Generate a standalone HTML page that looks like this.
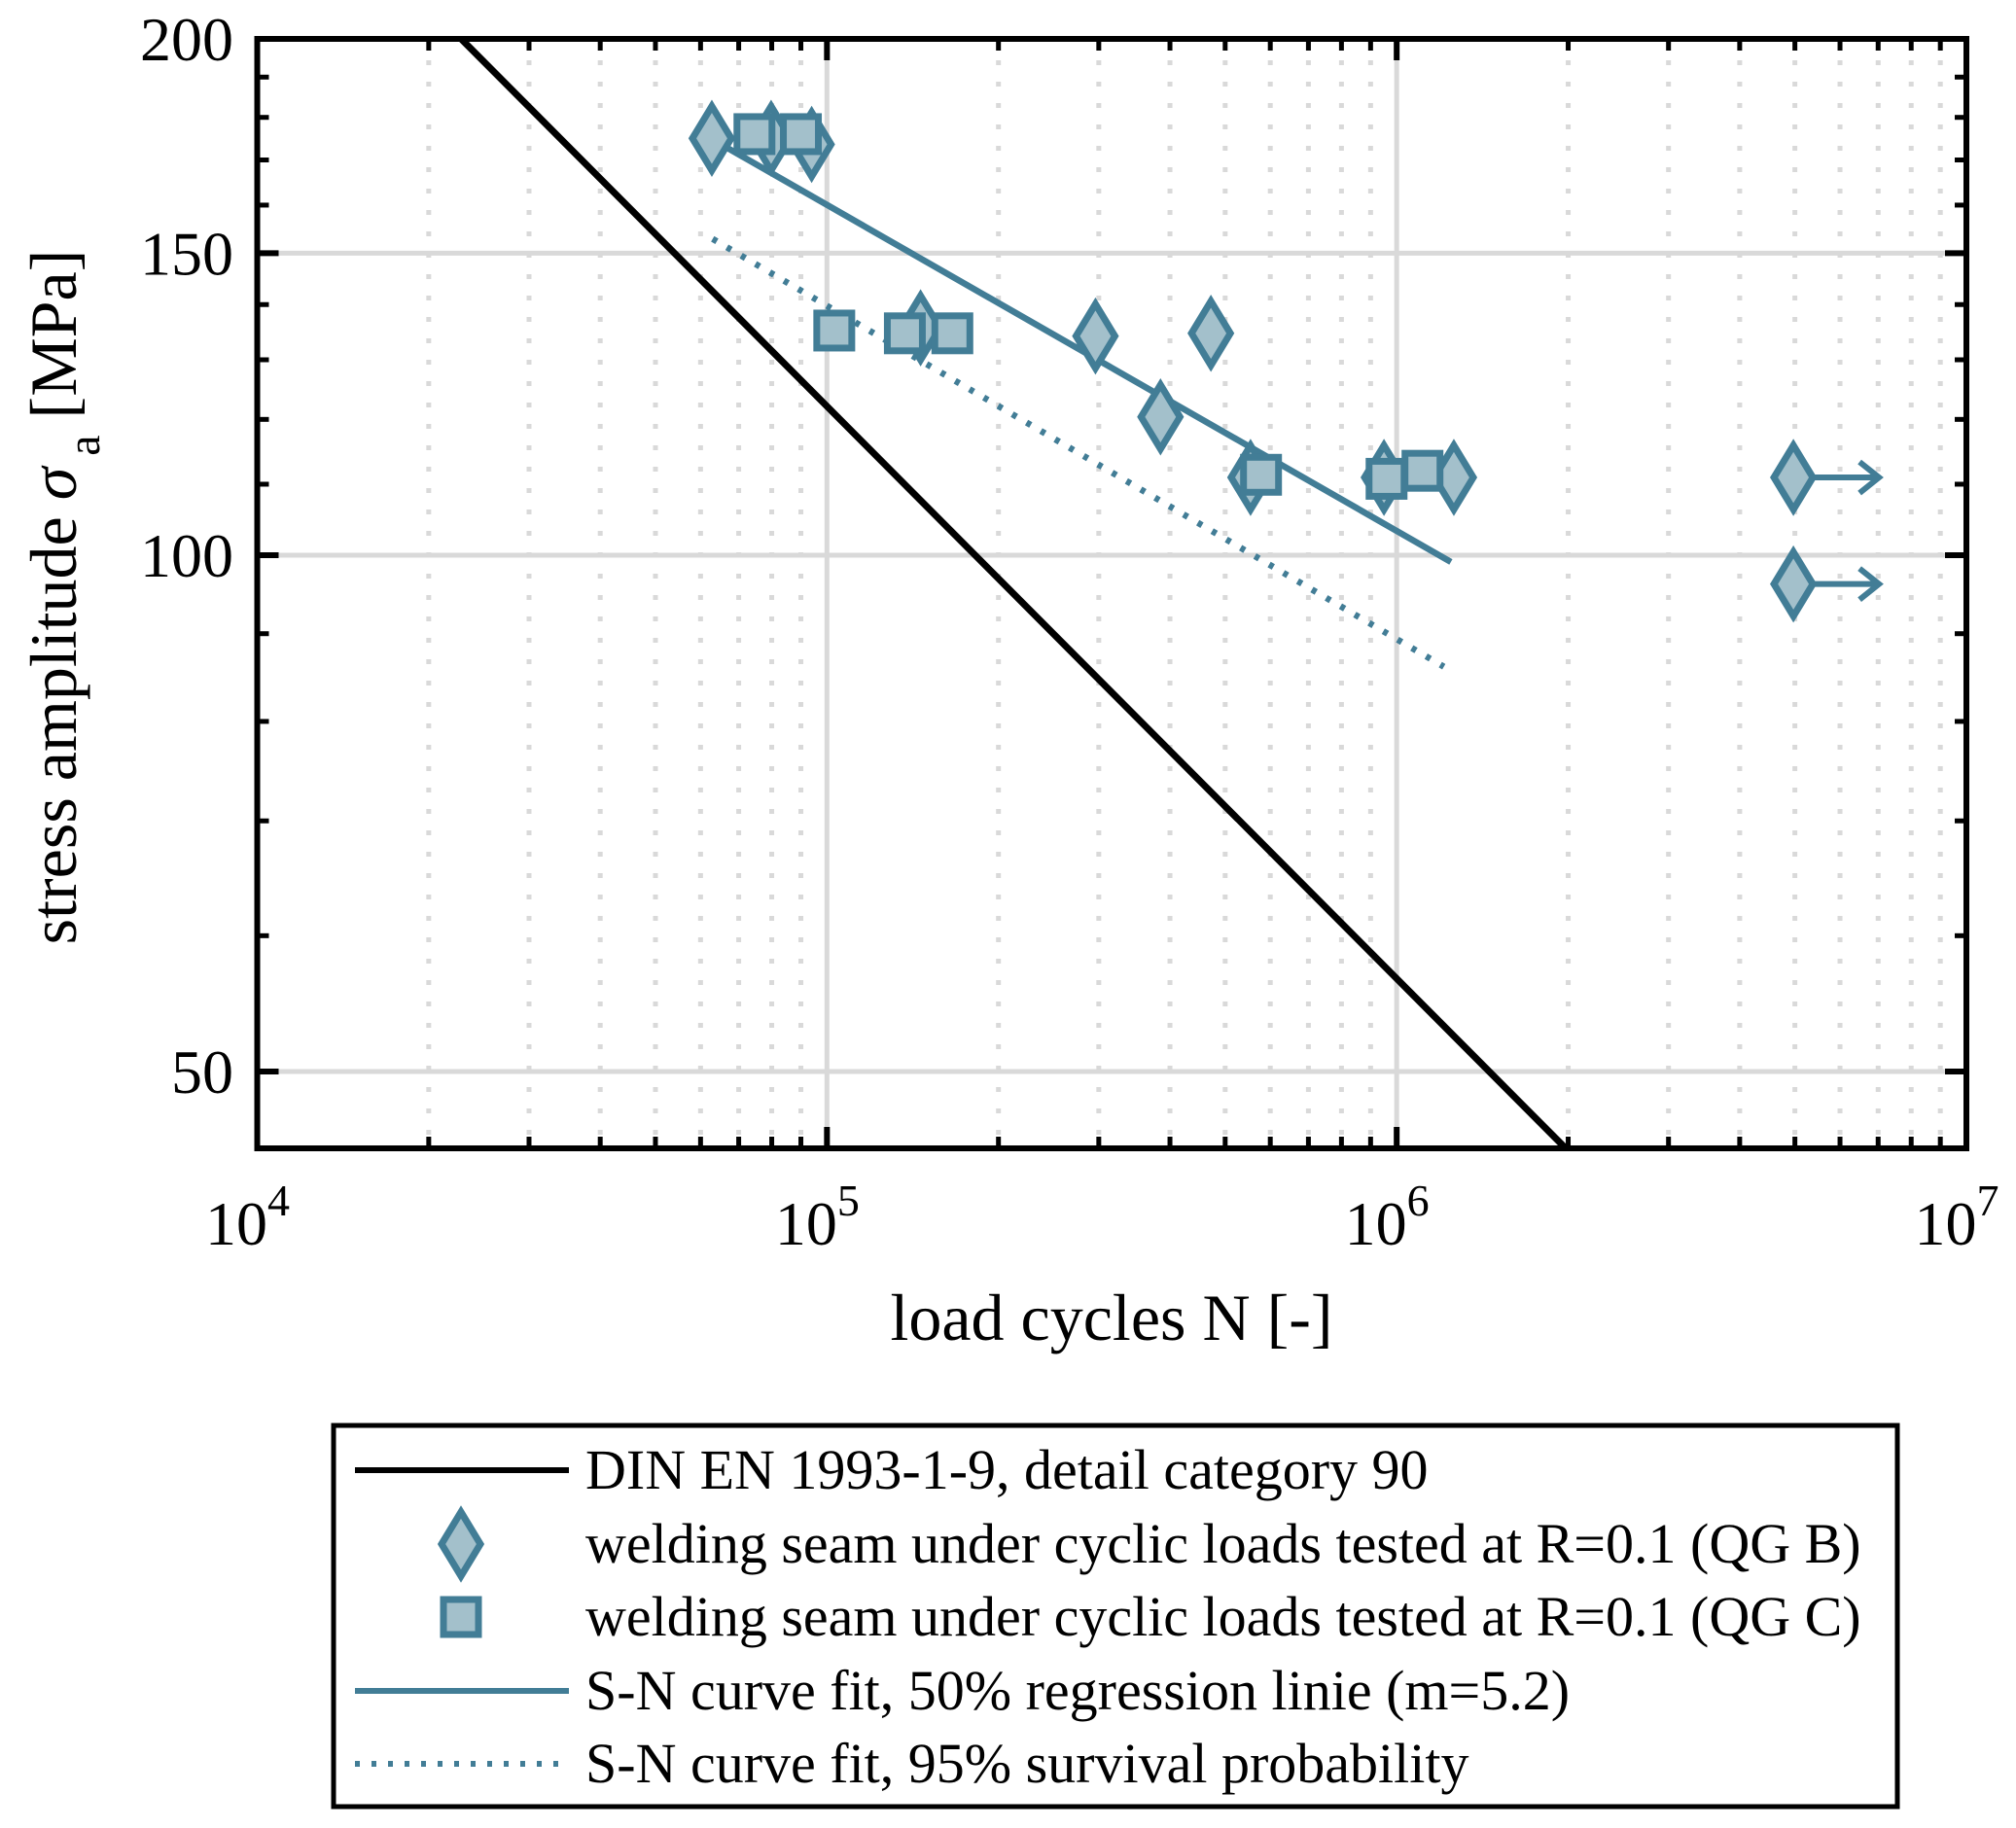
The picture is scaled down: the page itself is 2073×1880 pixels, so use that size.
<!DOCTYPE html>
<html><head><meta charset="utf-8"><style>
body{margin:0;background:#fff}
svg{display:block;font-family:"Liberation Serif","DejaVu Serif",serif}
</style></head><body>
<svg id="chart" width="2073" height="1880" viewBox="0 0 2073 1880" xmlns="http://www.w3.org/2000/svg">
<g id="grid"></g>
<g id="series"></g>
<g id="axes"></g>
<g id="legend"></g>
</svg>
<script>
// ---- data ----
const xDecades = [4, 5, 6, 7];
const yMajorTicks = [50, 100, 150, 200];
const yMinorTicks = [50,60,70,80,90,100,110,120,130,140,150,160,170,180,190,200];
const dinN = [22800, 1980000];
const dinS = [200, 45.1];
const fitN = [66000, 1245000];
const fitS = [173.2, 99.1];
const fit95N = [63000, 1210000];
const fit95S = [152.9, 86.1];
const qgbN = [62800, 79800, 94000, 146000, 296000, 472000, 385000, 554000, 950000, 1260000];
const qgbS = [175, 175, 173.6, 135.7, 134.2, 134.7, 120.4, 111, 111, 111];
const runoutN = [4970000, 4970000];
const runoutS = [111, 96.2];
const qgcN = [74600, 90000, 103000, 137000, 166000, 578000, 960000, 1110000];
const qgcS = [176, 176, 135.2, 134.7, 134.7, 111.4, 110.8, 112];

// ---- axes ----
const X0=264.5, X1=2022, Y0=40, Y1=1181;
const xMinL=4, xMaxL=7, yMax=200, yMin=45.1;
function xs(n){return X0+(Math.log10(n)-xMinL)/(xMaxL-xMinL)*(X1-X0);}
function ys(s){return Y0+(Math.log10(yMax)-Math.log10(s))/(Math.log10(yMax)-Math.log10(yMin))*(Y1-Y0);}
const NS="http://www.w3.org/2000/svg";
function mk(tag,attrs,parent){const e=document.createElementNS(NS,tag);for(const k in attrs)e.setAttribute(k,attrs[k]);parent.appendChild(e);return e;}
const grid=document.getElementById('grid'),ser=document.getElementById('series'),ax=document.getElementById('axes'),leg=document.getElementById('legend');
const BLUE="#427d96", FILL="#a3c0cb";

// grid
for(let d=xDecades[0]; d<xDecades[xDecades.length-1]; d++){
  for(let k=2;k<=9;k++){
    const x=xs(k*Math.pow(10,d));
    const l=mk('line',{x1:x,x2:x,y1:Y0,y2:Y1,stroke:'#d9d9d9','stroke-width':5,'stroke-dasharray':'5 17'},grid);
    
    
  }
}
xDecades.slice(1,-1).forEach(d=>{
  const x=xs(Math.pow(10,d));
  const l=mk('line',{x1:x,x2:x,y1:Y0,y2:Y1,stroke:'#d9d9d9','stroke-width':5},grid);
  
  
});
yMajorTicks.slice(0,-1).forEach(v=>{
  const y=ys(v);
  const l=mk('line',{x1:X0,x2:X1,y1:y,y2:y,stroke:'#d9d9d9','stroke-width':5},grid);
  
  
});

// series lines
function line(N,S,attrs,name){
  const l=mk('line',Object.assign({x1:xs(N[0]),y1:ys(S[0]),x2:xs(N[1]),y2:ys(S[1])},attrs),ser);
  
  
}
line(dinN,dinS,{stroke:'#000','stroke-width':7},'din-en-line');
line(fit95N,fit95S,{stroke:BLUE,'stroke-width':6.5,'stroke-dasharray':'5 12'},'fit-95-line');
line(fitN,fitS,{stroke:BLUE,'stroke-width':6.5},'fit-50-line');

function diamond(cx,cy,parent){return mk('polygon',{points:`${cx},${cy-33} ${cx+20},${cy} ${cx},${cy+33} ${cx-20},${cy}`,fill:FILL,stroke:BLUE,'stroke-width':7,'stroke-linejoin':'miter'},parent);}
function square(cx,cy,parent){return mk('rect',{x:cx-18,y:cy-18,width:36,height:36,fill:FILL,stroke:BLUE,'stroke-width':7},parent);}

qgbN.forEach((n,i)=>{
  const d=diamond(xs(n),ys(qgbS[i]),ser);
  
  
});
qgcN.forEach((n,i)=>{
  const s=square(xs(n),ys(qgcS[i]),ser);
  
  
});
runoutN.forEach((n,i)=>{
  const cx=xs(n),cy=ys(runoutS[i]);
  const a=mk('path',{d:`M${cx+8},${cy} H${cx+87} M${cx+68},${cy-16} L${cx+88},${cy} L${cx+68},${cy+16}`,fill:'none',stroke:BLUE,'stroke-width':6},ser);
  
  
  const d=diamond(cx,cy,ser);
  
  
});

// axes frame and ticks
const fr=mk('rect',{x:X0,y:Y0,width:X1-X0,height:Y1-Y0,fill:'none',stroke:'#000','stroke-width':6},ax);


for(let d=4;d<7;d++){for(let k=2;k<=9;k++){const x=xs(k*Math.pow(10,d));
  mk('line',{x1:x,x2:x,y1:Y1,y2:Y1-12,stroke:'#000','stroke-width':5},ax);
  mk('line',{x1:x,x2:x,y1:Y0,y2:Y0+12,stroke:'#000','stroke-width':5},ax);}}
xDecades.forEach(d=>{const x=xs(Math.pow(10,d));
  mk('line',{x1:x,x2:x,y1:Y1,y2:Y1-22,stroke:'#000','stroke-width':6},ax);
  mk('line',{x1:x,x2:x,y1:Y0,y2:Y0+22,stroke:'#000','stroke-width':6},ax);
  const t=mk('text',{x:x-10,y:1280,'font-size':64,'text-anchor':'middle'},ax);
  
  
  t.textContent='10';
  const s=mk('tspan',{dy:-30,'font-size':46},t); s.textContent=String(d);
});
yMinorTicks.forEach(v=>{const y=ys(v);
  mk('line',{x1:X0,x2:X0+12,y1:y,y2:y,stroke:'#000','stroke-width':5},ax);
  mk('line',{x1:X1,x2:X1-12,y1:y,y2:y,stroke:'#000','stroke-width':5},ax);});
yMajorTicks.forEach(v=>{const y=ys(v);
  mk('line',{x1:X0,x2:X0+22,y1:y,y2:y,stroke:'#000','stroke-width':6},ax);
  mk('line',{x1:X1,x2:X1-22,y1:y,y2:y,stroke:'#000','stroke-width':6},ax);
  const t=mk('text',{x:240,y:y+22,'font-size':64,'text-anchor':'end'},ax);
  
  
  t.textContent=String(v);});
const xt=mk('text',{x:1143,y:1378,'font-size':68,'text-anchor':'middle'},ax);


xt.textContent='load cycles N [-]';
const yt=mk('text',{x:0,y:0,'font-size':68,'text-anchor':'middle',transform:'translate(78,614) rotate(-90)'},ax);


yt.textContent='stress amplitude ';
const sg=mk('tspan',{'font-style':'italic'},yt); sg.textContent='σ';
const sa=mk('tspan',{dy:24,'font-size':48},yt); sa.textContent=' a';
const sr=mk('tspan',{dy:-24},yt); sr.textContent=' [MPa]';

// legend
const lb=mk('rect',{x:343,y:1466,width:1608,height:392,fill:'#fff',stroke:'#000','stroke-width':5},leg);


const rows=[1512,1588,1663,1739,1814];
const labels=['DIN EN 1993-1-9, detail category 90','welding seam under cyclic loads tested at R=0.1 (QG B)','welding seam under cyclic loads tested at R=0.1 (QG C)','S-N curve fit, 50% regression linie (m=5.2)','S-N curve fit, 95% survival probability'];
labels.forEach((s,i)=>{
  const t=mk('text',{x:602,y:rows[i]+19,'font-size':58},leg);
  
  
  t.textContent=s;});
mk('line',{x1:365,x2:585,y1:rows[0],y2:rows[0],stroke:'#000','stroke-width':6},leg);
diamond(474,rows[1],leg);
square(474,rows[2],leg);
mk('line',{x1:365,x2:585,y1:rows[3],y2:rows[3],stroke:BLUE,'stroke-width':6},leg);
mk('line',{x1:365,x2:585,y1:rows[4],y2:rows[4],stroke:BLUE,'stroke-width':6,'stroke-dasharray':'5 12'},leg);
</script>
</body></html>
